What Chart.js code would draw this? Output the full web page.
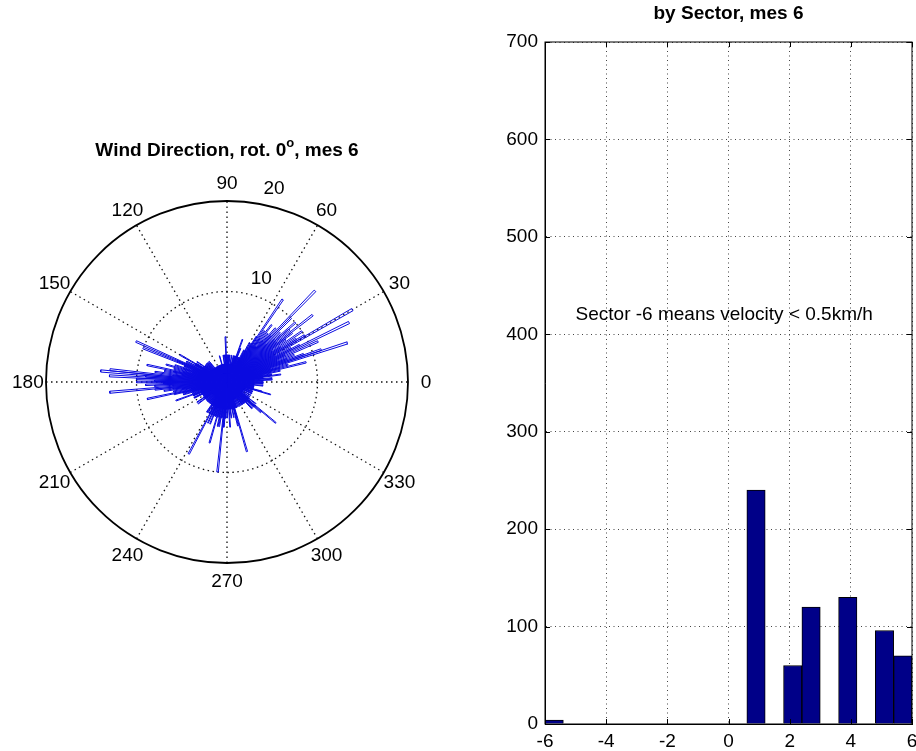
<!DOCTYPE html>
<html><head><meta charset="utf-8">
<script src="https://cdn.jsdelivr.net/npm/chart.js@4/dist/chart.umd.min.js"></script>
<style>
html,body{margin:0;padding:0;background:#fff;overflow:hidden;width:916px;height:751px;position:relative}
#wrapL{position:absolute;left:0;top:0;width:460px;height:751px}
#wrapR{position:absolute;left:460px;top:0;width:470px;height:751px}
</style></head><body>
<div id="wrapL"><canvas id="rose" width="460" height="751"></canvas></div>
<div id="wrapR"><canvas id="bars" width="470" height="751"></canvas></div>
<script>
// ---------- rose (wind direction) data: 1-degree bins, angle (deg) and count ----------
const binAngles = [
  0,1,2,3,4,5,6,7,8,9,10,11,12,13,14,15,16,17,18,19,20,21,22,23,24,25,26,27,28,29,
  30,31,32,33,34,35,36,37,38,39,40,41,42,43,44,45,46,47,48,49,50,51,52,53,54,55,56,57,58,59,
  60,61,62,63,64,65,66,67,68,69,70,71,72,73,74,75,76,77,78,79,80,81,82,83,84,85,86,87,88,89,
  90,91,92,93,94,95,96,97,98,99,100,101,102,103,104,105,106,107,108,109,110,111,112,113,114,115,116,117,118,119,
  120,121,122,123,124,125,126,127,128,129,130,131,132,133,134,135,136,137,138,139,140,141,142,143,144,145,146,147,148,149,
  150,151,152,153,154,155,156,157,158,159,160,161,162,163,164,165,166,167,168,169,170,171,172,173,174,175,176,177,178,179,
  180,181,182,183,184,185,186,187,188,189,190,191,192,193,194,195,196,197,198,199,200,201,202,203,204,205,206,207,208,209,
  210,211,212,213,214,215,216,217,218,219,220,221,222,223,224,225,226,227,228,229,230,231,232,233,234,235,236,237,238,239,
  240,241,242,243,244,245,246,247,248,249,250,251,252,253,254,255,256,257,258,259,260,261,262,263,264,265,266,267,268,269,
  270,271,272,273,274,275,276,277,278,279,280,281,282,283,284,285,286,287,288,289,290,291,292,293,294,295,296,297,298,299,
  300,301,302,303,304,305,306,307,308,309,310,311,312,313,314,315,316,317,318,319,320,321,322,323,324,325,326,327,328,329,
  330,331,332,333,334,335,336,337,338,339,340,341,342,343,344,345,346,347,348,349,350,351,352,353,354,355,356,357,358,359
];
const binCounts = [
  4,3,4,5,3,5,4,4,6,5,5,4,6,5,9,6,7,5,14,11,9,7,8,6,11,7,15,9,8,6,
  16,10,9,7,10,6,8,9,12,7,9,10,7,8,6,10,14,7,8,6,7,5,8,6,7,5,11,6,5,4,
  5,3,4,3,2,3,3,2,4,3,5,3,3,2,3,2,3,2,2,1,3,2,2,1,3,2,3,2,3,2,
  3,2,5,3,2,3,2,1,3,2,2,1,2,2,1,2,3,2,1,2,2,1,2,2,1,2,2,1,2,2,
  2,1,2,2,1,2,2,2,1,2,2,3,2,2,3,2,3,2,3,2,3,2,3,2,3,3,4,2,3,4,
  6,4,4,5,3,5,11,6,10,5,5,4,6,5,7,4,6,5,9,6,7,5,8,6,13,14,9,13,10,8,
  10,7,9,8,6,13,8,6,7,5,6,4,9,6,5,4,5,3,4,3,6,4,4,3,3,4,4,3,3,2,
  3,3,2,3,4,3,3,4,3,2,3,2,3,3,2,3,3,2,3,3,2,3,3,2,3,3,4,3,4,3,
  3,4,9,3,4,5,4,3,5,4,3,4,4,3,7,4,3,4,5,3,5,4,4,3,10,5,5,4,4,3,
  3,4,3,3,5,3,3,4,3,3,3,4,3,3,5,4,8,3,3,2,3,3,2,2,3,2,2,3,2,2,
  3,2,2,3,3,2,3,2,3,3,3,2,3,4,4,3,3,4,5,4,7,3,3,4,3,2,2,3,2,2,
  2,3,2,2,2,3,3,2,2,3,3,2,2,3,5,4,3,3,3,2,3,3,3,2,4,3,3,4,3,4
];
const angleTickLabels = [0,30,60,90,120,150,180,210,240,270,300,330];
const ringTickLabels = [10,20];
const roseMax = 20;

// ---------- bar chart (by sector) data ----------
const sectorNames = [-6,1,2,3,4,5,6];
const sectorX = [-5.7,0.9,2.1,2.7,3.9,5.1,5.7];
const sectorCounts = [4,240,60,120,130,96,70];
const barYTicks = [0,100,200,300,400,500,600,700];
const barXTicks = [-6,-4,-2,0,2,4,6];

const FONT = "'Liberation Sans', Arial, Helvetica, sans-serif";
Chart.defaults.font.family = FONT;
Chart.defaults.color = '#000';

// ---------- rose chart ----------
const HALF = 0.5; // half wedge width in degrees (1-degree bins)
const rosePts = [];
binAngles.forEach((a, i) => {
  const r = binCounts[i];
  if (!r) return;
  const a1 = (a - HALF) * Math.PI / 180, a2 = (a + HALF) * Math.PI / 180;
  rosePts.push({x:0,y:0},{x:r*Math.cos(a1),y:r*Math.sin(a1)},{x:r*Math.cos(a2),y:r*Math.sin(a2)},{x:0,y:0});
});

const polarGrid = {
  id:'polarGrid',
  beforeDatasetsDraw(chart){
    const {ctx, scales:{x, y}} = chart;
    const cx = x.getPixelForValue(0), cy = y.getPixelForValue(0);
    const rx = v => x.getPixelForValue(v) - cx;
    const ry = v => cy - y.getPixelForValue(v);
    ctx.save();
    ctx.strokeStyle = '#111';
    ctx.lineWidth = 1.3;
    ctx.setLineDash([1.5,3.5]);
    ringTickLabels.forEach(v => {
      if (v >= roseMax) return;
      ctx.beginPath();
      ctx.ellipse(cx, cy, rx(v), ry(v), 0, 0, Math.PI*2);
      ctx.stroke();
    });
    for (let k = 0; k < 6; k++) {
      const t = angleTickLabels[k]*Math.PI/180;
      ctx.beginPath();
      ctx.moveTo(cx - rx(roseMax)*Math.cos(t), cy + ry(roseMax)*Math.sin(t));
      ctx.lineTo(cx + rx(roseMax)*Math.cos(t), cy - ry(roseMax)*Math.sin(t));
      ctx.stroke();
    }
    ctx.restore();
  },
  afterDatasetsDraw(chart){
    const {ctx, scales:{x, y}} = chart;
    const cx = x.getPixelForValue(0), cy = y.getPixelForValue(0);
    const rx = v => x.getPixelForValue(v) - cx;
    const ry = v => cy - y.getPixelForValue(v);
    ctx.save();
    ctx.strokeStyle = '#000';
    ctx.lineWidth = 1.8;
    ctx.beginPath();
    ctx.ellipse(cx, cy, rx(roseMax), ry(roseMax), 0, 0, Math.PI*2);
    ctx.stroke();
    ctx.fillStyle = '#000';
    ctx.font = '19px ' + FONT;
    ctx.textAlign = 'center';
    ctx.textBaseline = 'middle';
    angleTickLabels.forEach(a => {
      const t = a*Math.PI/180;
      ctx.fillText(String(a), cx + 1.1*rx(roseMax)*Math.cos(t), cy - 1.1*ry(roseMax)*Math.sin(t)+1);
    });
    const t82 = 82*Math.PI/180;
    ctx.textAlign = 'left';
    ctx.textBaseline = 'bottom';
    ringTickLabels.forEach(v => {
      const rr = v + roseMax/2/20;
      ctx.fillText('  ' + v, cx + rx(rr)*Math.cos(t82), cy - ry(rr)*Math.sin(t82));
    });
    ctx.font = 'bold 19px ' + FONT;
    ctx.textAlign = 'left';
    ctx.textBaseline = 'middle';
    const p1 = 'Wind Direction, rot. 0', p2 = 'o', p3 = ', mes 6';
    const w1 = ctx.measureText(p1).width;
    ctx.font = 'bold 13px ' + FONT;
    const w2 = ctx.measureText(p2).width;
    ctx.font = 'bold 19px ' + FONT;
    const w3 = ctx.measureText(p3).width;
    const tx = cx - (w1 + w2 + w3)/2, ty = 151;
    ctx.fillText(p1, tx, ty);
    ctx.font = 'bold 13px ' + FONT;
    ctx.fillText(p2, tx + w1, ty - 8);
    ctx.font = 'bold 19px ' + FONT;
    ctx.fillText(p3, tx + w1 + w2, ty);
    ctx.restore();
  }
};

new Chart(document.getElementById('rose'), {
  type:'scatter',
  data:{datasets:[{
    data: rosePts,
    showLine:true,
    borderColor:'#0a0ae0',
    borderWidth:1,
    pointRadius:0,
    fill:false,
    tension:0
  }]},
  options:{
    responsive:false,
    animation:false,
    devicePixelRatio:1,
    layout:{padding:{left:46,right:52,top:201,bottom:188}},
    plugins:{legend:{display:false},tooltip:{enabled:false},title:{display:false}},
    scales:{
      x:{type:'linear',min:-roseMax,max:roseMax,display:false},
      y:{type:'linear',min:-roseMax,max:roseMax,display:false}
    }
  },
  plugins:[polarGrid]
});

// ---------- bar chart ----------
const barDeco = {
  id:'barDeco',
  afterDraw(chart){
    const {ctx, chartArea:ca, scales:{x, y}} = chart;
    ctx.save();
    ctx.strokeStyle = '#000';
    ctx.lineWidth = 1;
    ctx.strokeRect(ca.left, ca.top, ca.right - ca.left, ca.bottom - ca.top);
    const TL = 5;
    ctx.beginPath();
    barYTicks.forEach(v => {
      const py = Math.round(y.getPixelForValue(v)) + 0.5;
      ctx.moveTo(ca.left, py); ctx.lineTo(ca.left + TL, py);
      ctx.moveTo(ca.right, py); ctx.lineTo(ca.right - TL, py);
    });
    barXTicks.forEach(v => {
      const px = Math.round(x.getPixelForValue(v)) + 0.5;
      ctx.moveTo(px, ca.bottom); ctx.lineTo(px, ca.bottom - TL);
      ctx.moveTo(px, ca.top); ctx.lineTo(px, ca.top + TL);
    });
    ctx.stroke();
    ctx.fillStyle = '#000';
    ctx.font = 'bold 19px ' + FONT;
    ctx.textAlign = 'center';
    ctx.textBaseline = 'middle';
    ctx.fillText('by Sector, mes 6', (ca.left + ca.right)/2, 14);
    ctx.font = '19px ' + FONT;
    ctx.textAlign = 'left';
    ctx.fillText('Sector -6 means velocity < 0.5km/h', x.getPixelForValue(-5), y.getPixelForValue(420));
    ctx.restore();
  }
};

new Chart(document.getElementById('bars'), {
  type:'bar',
  data:{datasets:[{
    label:'by Sector',
    data: sectorX.map((sx, i) => ({x: sx, y: sectorCounts[i]})),
    backgroundColor:'#000088',
    borderColor:'#000',
    borderWidth:1,
    barPercentage:1,
    categoryPercentage:1
  }]},
  options:{
    responsive:false,
    animation:false,
    devicePixelRatio:1,
    layout:{padding:{left:0,right:18,top:42,bottom:0}},
    plugins:{legend:{display:false},tooltip:{enabled:false},title:{display:false}},
    scales:{
      x:{
        type:'linear', min:-6, max:6, offset:false,
        ticks:{stepSize:2, padding:6, font:{size:19}, color:'#000', maxRotation:0, autoSkip:false},
        grid:{color:'#444', lineWidth:1, drawTicks:false, offset:false},
        border:{display:true, color:'#000', width:1, dash:[1,3.5]},
        afterFit(s){ s.height = 27; }
      },
      y:{
        type:'linear', min:0, max:700,
        ticks:{stepSize:100, padding:7, font:{size:19}, color:'#000'},
        grid:{color:'#444', lineWidth:1, drawTicks:false},
        border:{display:true, color:'#000', width:1, dash:[1,3.5]},
        afterFit(s){ s.width = 85; }
      }
    }
  },
  plugins:[barDeco]
});
</script>
</body></html>
